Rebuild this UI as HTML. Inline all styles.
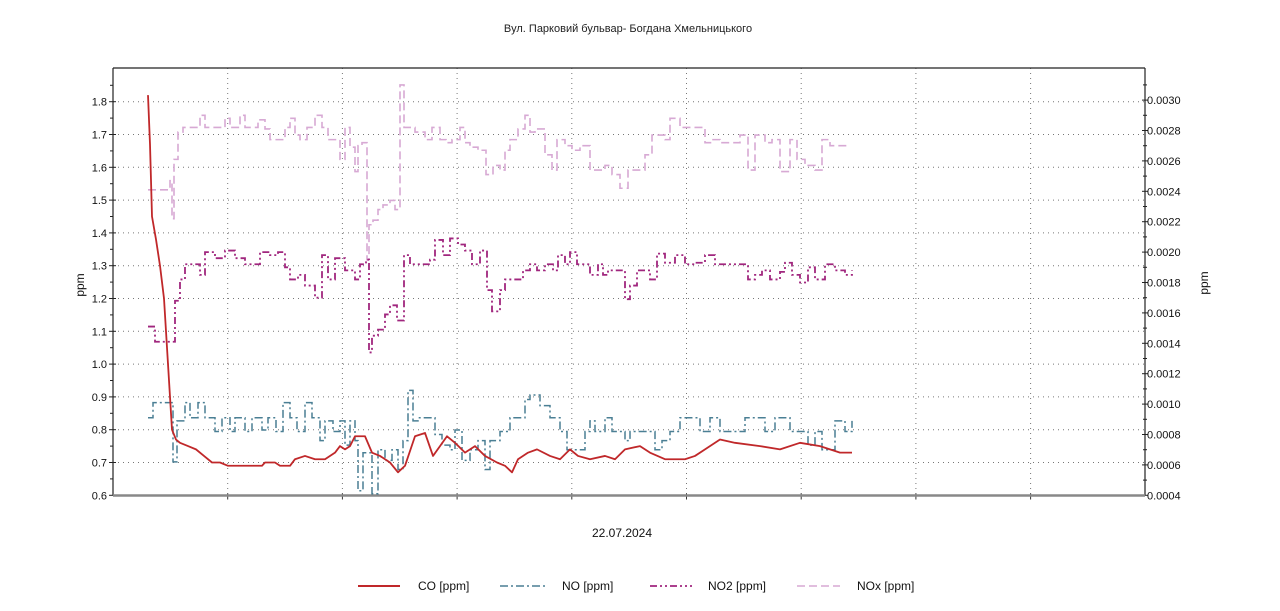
<!DOCTYPE html>
<html><head><meta charset="utf-8"><style>
body{margin:0;background:#fff;width:1280px;height:606px;overflow:hidden;font-family:"Liberation Sans","Noto Sans CJK SC",sans-serif}
svg text{font-family:"Liberation Sans","Noto Sans CJK SC",sans-serif}
</style></head><body>
<svg id="chart" width="1280" height="606" xmlns="http://www.w3.org/2000/svg">
<text x="628" y="32" font-size="11" text-anchor="middle" fill="#222">Вул. Парковий бульвар- Богдана Хмельницького</text>
<text x="622" y="537" font-size="12" text-anchor="middle" fill="#111">22.07.2024</text>
<text x="84" y="285" font-size="12" text-anchor="middle" fill="#111" transform="rotate(-90 84 285)">ppm</text>
<text x="1208" y="283" font-size="12" text-anchor="middle" fill="#111" transform="rotate(-90 1208 283)">ppm</text>
<g id="grid"></g><g id="axes"></g><g id="series"></g>
<g font-size="12" fill="#111">
<g><line x1="358" y1="586" x2="400" y2="586" stroke="#c0282a" stroke-width="2"/><text x="418" y="590">CO [ppm]</text></g>
<g><line x1="500" y1="586" x2="545" y2="586" stroke="#4a7f94" stroke-width="1.5" stroke-dasharray="8,3,2,3"/><text x="562" y="590">NO [ppm]</text></g>
<g><line x1="650" y1="586" x2="692" y2="586" stroke="#a0267e" stroke-width="1.8" stroke-dasharray="7,3,2,3,2,3"/><text x="708" y="590">NO2 [ppm]</text></g>
<g><line x1="797" y1="586" x2="840" y2="586" stroke="#d7a9d4" stroke-width="1.5" stroke-dasharray="8,4"/><text x="857" y="590">NOx [ppm]</text></g>
</g>
</svg>
<script>
// time = minutes from plot start (0..1032)
const leftTicks=[0.6,0.7,0.8,0.9,1.0,1.1,1.2,1.3,1.4,1.5,1.6,1.7,1.8];
const rightTicks=["0.0004","0.0006","0.0008","0.0010","0.0012","0.0014","0.0016","0.0018","0.0020","0.0022","0.0024","0.0026","0.0028","0.0030"];
const coT=[35,37,39,43,47,51,55,59,63,67,75,83,91,99,107,115,149,152,162,167,177,182,192,202,212,222,227,232,237,242,252,259,267,277,285,292,302,312,320,327,334,342,352,362,372,384,392,399,405,415,424,437,447,457,465,477,492,502,512,527,537,552,572,582,592,607,622,647,667,687,707,727,739],
coV=[1.82,1.67,1.45,1.38,1.3,1.2,1.0,0.8,0.77,0.76,0.75,0.74,0.72,0.70,0.70,0.69,0.69,0.70,0.70,0.69,0.69,0.71,0.72,0.71,0.71,0.73,0.75,0.74,0.75,0.78,0.78,0.73,0.72,0.70,0.67,0.69,0.78,0.79,0.72,0.75,0.78,0.76,0.73,0.75,0.72,0.70,0.69,0.67,0.71,0.73,0.74,0.72,0.71,0.74,0.72,0.71,0.72,0.71,0.74,0.75,0.73,0.71,0.71,0.72,0.74,0.77,0.76,0.75,0.74,0.76,0.75,0.73,0.73];
const noT=[35,40,60,64,72,77,85,92,102,109,117,122,132,139,149,155,163,170,177,184,192,199,207,212,220,227,232,237,242,245,250,257,259,265,272,279,285,290,295,300,305,315,322,329,337,342,349,357,365,372,377,387,397,405,412,417,427,437,443,447,454,462,472,477,482,492,499,505,512,517,527,537,542,549,557,567,577,587,597,607,617,632,642,652,662,677,687,695,702,709,717,722,732,739],
noV=[0.00091,0.00101,0.00062,0.00089,0.00101,0.00091,0.00101,0.00091,0.00082,0.00091,0.00082,0.00091,0.00082,0.00091,0.00083,0.00091,0.00082,0.00101,0.00091,0.00082,0.00101,0.00091,0.00076,0.00089,0.00082,0.00089,0.00073,0.00089,0.00076,0.00043,0.00068,0.00068,0.00041,0.00070,0.00063,0.00070,0.00057,0.00076,0.00109,0.00089,0.00091,0.00091,0.00080,0.00073,0.00070,0.00083,0.00063,0.00070,0.00076,0.00057,0.00076,0.00082,0.00091,0.00091,0.00103,0.00106,0.00099,0.00091,0.00091,0.00082,0.00070,0.00070,0.00082,0.00089,0.00082,0.00091,0.00082,0.00082,0.00076,0.00082,0.00082,0.00082,0.00070,0.00076,0.00082,0.00091,0.00091,0.00082,0.00091,0.00082,0.00082,0.00091,0.00091,0.00082,0.00091,0.00082,0.00082,0.00073,0.00082,0.00070,0.00070,0.00089,0.00082,0.00089];
const no2T=[35,42,62,67,72,80,87,92,102,112,122,132,142,147,157,165,172,177,185,192,202,209,215,222,232,242,247,253,256,259,265,272,277,284,291,297,307,317,322,330,337,345,352,359,367,374,379,387,392,402,410,417,424,432,440,445,452,457,464,469,477,485,490,495,502,512,517,524,532,537,544,552,562,572,582,592,602,612,627,635,642,649,657,667,672,679,687,695,702,712,722,732,739],
no2V=[0.00151,0.00141,0.00168,0.00182,0.00192,0.00192,0.00185,0.0020,0.00196,0.00201,0.00196,0.00192,0.00192,0.0020,0.00198,0.0020,0.0019,0.00182,0.00185,0.00178,0.0017,0.00198,0.00182,0.00196,0.00188,0.00182,0.00192,0.00195,0.00134,0.00145,0.00149,0.00159,0.00165,0.00155,0.00198,0.00192,0.00192,0.00195,0.00208,0.00198,0.00209,0.00205,0.00201,0.00192,0.00201,0.00175,0.00161,0.00175,0.00182,0.00182,0.00188,0.00192,0.00188,0.00192,0.00188,0.00198,0.00192,0.0020,0.00192,0.00192,0.00185,0.00192,0.00185,0.00188,0.00188,0.00169,0.00178,0.00188,0.00188,0.00182,0.00199,0.00193,0.00198,0.00192,0.00193,0.00198,0.00192,0.00192,0.00192,0.00182,0.00185,0.00188,0.00182,0.00187,0.00193,0.00185,0.0018,0.0019,0.00182,0.00192,0.00188,0.00185,0.00188];
const noxT=[35,57,59,61,65,70,77,87,92,99,107,112,117,122,127,132,137,145,152,157,165,172,177,182,187,194,202,209,215,222,227,232,237,242,245,249,254,256,260,265,270,277,282,287,291,295,302,312,319,327,333,339,347,352,357,365,373,380,387,392,397,405,412,417,422,432,439,444,452,459,467,477,487,492,499,507,515,522,532,539,545,552,557,567,572,582,592,599,607,617,627,635,642,652,659,667,677,684,692,702,709,717,725,737],
noxV=[0.00241,0.00247,0.00222,0.00261,0.00279,0.00282,0.00282,0.0029,0.00282,0.00282,0.00282,0.00288,0.00282,0.00282,0.0029,0.00282,0.00282,0.00287,0.00281,0.00274,0.00274,0.00282,0.00288,0.00277,0.00274,0.00282,0.0029,0.00282,0.00274,0.00274,0.00261,0.00282,0.00269,0.00253,0.0027,0.00272,0.00195,0.00218,0.00221,0.00228,0.00231,0.00234,0.00228,0.0031,0.00282,0.00282,0.00279,0.00274,0.00282,0.00274,0.00272,0.00274,0.00282,0.00272,0.00269,0.00267,0.00251,0.00257,0.00254,0.00267,0.00274,0.00281,0.0029,0.00279,0.00281,0.00264,0.00254,0.00274,0.0027,0.00267,0.0027,0.00254,0.00254,0.00257,0.00251,0.00242,0.00254,0.00254,0.00264,0.00277,0.00277,0.00274,0.00288,0.00282,0.00282,0.00282,0.00272,0.00274,0.00272,0.00272,0.00277,0.00254,0.00277,0.00272,0.00274,0.00253,0.00274,0.00261,0.00257,0.00254,0.00274,0.0027,0.0027,0.0027];

const L=113,R=1145,T=68,B=495.5;
const xS=t=>L+t;
const yL=v=>495.3-(v-0.6)*328;
const yR=v=>495.3-(v-0.0004)*152000;
const NS="http://www.w3.org/2000/svg";
function mk(tag,attrs,parent){const e=document.createElementNS(NS,tag);for(const k in attrs)e.setAttribute(k,attrs[k]);parent.appendChild(e);return e;}
const grid=document.getElementById('grid'),axes=document.getElementById('axes'),ser=document.getElementById('series');
leftTicks.forEach(v=>{
  const y=yL(v);
  const g=mk('line',{x1:L,x2:R,y1:y,y2:y,stroke:'#777','stroke-width':1,'stroke-dasharray':'1,4'},grid);
  
  
  mk('line',{x1:L-4,x2:L+3,y1:y,y2:y,stroke:'#222'},axes);
  mk('line',{x1:L-3,x2:L,y1:y-16.4,y2:y-16.4,stroke:'#222'},axes);
  const t=mk('text',{x:L-6,y:y+4,'font-size':11,'text-anchor':'end',fill:'#111'},axes);
  t.textContent=v.toFixed(1);
  
  
});
rightTicks.forEach(s=>{
  const y=yR(parseFloat(s));
  mk('line',{x1:R-3,x2:R+3,y1:y,y2:y,stroke:'#222'},axes);
  mk('line',{x1:R-2,x2:R+2,y1:y-15.2,y2:y-15.2,stroke:'#222'},axes);
  const t=mk('text',{x:R+2,y:y+4,'font-size':11,fill:'#111'},axes);
  t.textContent=s;
  
  
});
for(let k=1;k<=8;k++){const x=L+114.7*k;
  const g=mk('line',{x1:x,x2:x,y1:T,y2:B,stroke:'#777','stroke-width':1,'stroke-dasharray':'1,4'},grid);
  
  
  mk('line',{x1:x,x2:x,y1:B-2,y2:B+4,stroke:'#333'},axes);}
const ax=[[L,T,R,T,'#222',1.2],[L,T,L,B,'#222',1.2],[R,T,R,B,'#222',1.2],[L,B,R,B,'#888',2.5]];
ax.forEach(a=>{const l=mk('line',{x1:a[0],y1:a[1],x2:a[2],y2:a[3],stroke:a[4],'stroke-width':a[5]},axes);
  
  });
function step(ts,vs,yf){let d='M'+xS(ts[0])+','+yf(vs[0]);for(let i=1;i<ts.length;i++){d+='H'+xS(ts[i])+'V'+yf(vs[i]);}return d;}
function line(ts,vs,yf){return 'M'+ts.map((t,i)=>xS(t)+','+yf(vs[i])).join('L');}
const p1=mk('path',{d:step(noxT,noxV,yR),fill:'none',stroke:'#d7a9d4','stroke-width':1.6,'stroke-dasharray':'8,4'},ser);


const p2=mk('path',{d:step(no2T,no2V,yR),fill:'none',stroke:'#a0267e','stroke-width':1.8,'stroke-dasharray':'7,3,2,3,2,3'},ser);


const p3=mk('path',{d:step(noT,noV,yR),fill:'none',stroke:'#4a7f94','stroke-width':1.5,'stroke-dasharray':'8,3,2,3'},ser);


const p4=mk('path',{d:line(coT,coV,yL),fill:'none',stroke:'#c0282a','stroke-width':1.8,'stroke-linejoin':'round'},ser);


</script>
</body></html>
